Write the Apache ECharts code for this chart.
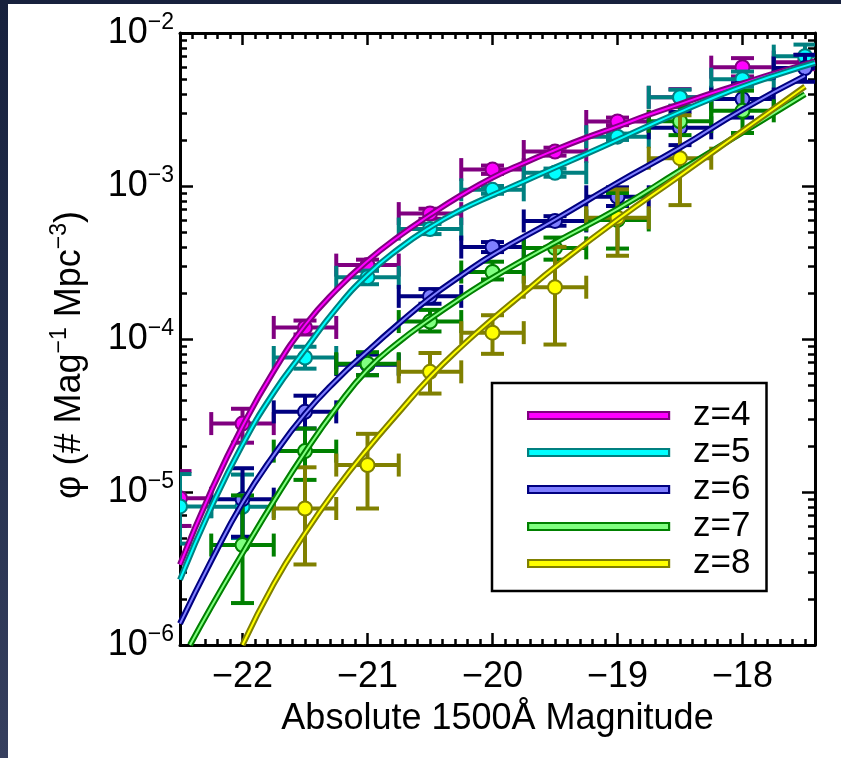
<!DOCTYPE html>
<html><head><meta charset="utf-8">
<script src="https://cdn.jsdelivr.net/npm/echarts@6/dist/echarts.min.js"></script>
<style>
html,body{margin:0;padding:0;width:841px;height:758px;overflow:hidden;background:linear-gradient(180deg,#17213d 0%,#26314f 55%,#363f5e 100%);}
#bg{position:absolute;left:8px;top:4px;width:833px;height:754px;background:#fff;}
#chart{position:absolute;left:0;top:0;width:841px;height:758px;}
</style></head>
<body><div id="bg"></div><div id="chart"></div>
<script>
// ---------------- data ----------------
const binHalfWidth = 0.25;
const xTickLabels = [-22, -21, -20, -19, -18];
const yDecades = [1e-6, 1e-5, 1e-4, 1e-3, 1e-2];
const legendNames = ['z=4', 'z=5', 'z=6', 'z=7', 'z=8'];

// measured points: magnitude, phi, lower bound, upper bound
const mag4 = [-22.5, -22.0, -21.5, -21.0, -20.5, -20.0, -19.5, -19.0, -18.5, -18.0, -17.5];
const phi4 = [9.1e-6, 2.8e-5, 1.19e-4, 3.04e-4, 6.6e-4, 1.28e-3, 1.68e-3, 2.64e-3, 3.8e-3, 5.98e-3, 6.45e-3];
const lo4  = [6.0e-6, 2.1e-5, 1.07e-4, 2.8e-4, 6.1e-4, 1.2e-3, 1.58e-3, 2.5e-3, 3.3e-3, 5.2e-3, 5.8e-3];
const hi4  = [1.37e-5, 3.5e-5, 1.32e-4, 3.3e-4, 7.1e-4, 1.36e-3, 1.78e-3, 2.8e-3, 4.3e-3, 6.85e-3, 7.2e-3];

const mag5 = [-22.5, -22.0, -21.5, -21.0, -20.5, -20.0, -19.5, -19.0, -18.5, -18.0, -17.5];
const phi5 = [8.05e-6, 8.0e-6, 7.57e-5, 2.53e-4, 5.23e-4, 9.44e-4, 1.22e-3, 2.1e-3, 3.8e-3, 4.99e-3, 7.06e-3];
const lo5  = [4.6e-6, 5.0e-6, 6.4e-5, 2.28e-4, 4.85e-4, 8.9e-4, 1.15e-3, 2.0e-3, 3.35e-3, 4.45e-3, 6.0e-3];
const hi5  = [1.31e-5, 1.3e-5, 8.9e-5, 2.8e-4, 5.65e-4, 1.0e-3, 1.3e-3, 2.2e-3, 4.26e-3, 5.6e-3, 8.4e-3];

const mag6 = [-22.0, -21.5, -21.0, -20.5, -20.0, -19.5, -19.0, -18.5, -18.0, -17.5];
const phi6 = [8.98e-6, 3.34e-5, 6.8e-5, 1.9e-4, 3.99e-4, 5.91e-4, 8.5e-4, 2.4e-3, 3.7e-3, 5.9e-3];
const lo6  = [5.1e-6, 2.6e-5, 5.8e-5, 1.7e-4, 3.7e-4, 5.5e-4, 7.4e-4, 1.85e-3, 2.8e-3, 4.8e-3];
const hi6  = [1.43e-5, 4.26e-5, 7.9e-5, 2.12e-4, 4.3e-4, 6.35e-4, 9.8e-4, 3.05e-3, 4.7e-3, 7.2e-3];

const mag7 = [-22.0, -21.5, -21.0, -20.5, -20.0, -19.5, -19.0, -18.5, -18.0];
const phi7 = [4.5e-6, 1.85e-5, 6.9e-5, 1.3e-4, 2.74e-4, 3.94e-4, 6.0e-4, 2.65e-3, 3.1e-3];
const lo7  = [1.88e-6, 1.2e-5, 5.8e-5, 1.12e-4, 2.45e-4, 3.3e-4, 3.9e-4, 2.15e-3, 2.22e-3];
const hi7  = [9.5e-6, 2.6e-5, 8.2e-5, 1.55e-4, 3.2e-4, 4.6e-4, 9.0e-4, 3.3e-3, 4.2e-3];

const mag8 = [-21.5, -21.0, -20.5, -20.0, -19.5, -19.0, -18.5];
const phi8 = [7.8e-6, 1.5e-5, 6.1e-5, 1.1e-4, 2.18e-4, 6.2e-4, 1.52e-3];
const lo8  = [3.36e-6, 7.8e-6, 4.4e-5, 8.0e-5, 9.2e-5, 3.5e-4, 7.5e-4];
const hi8  = [1.45e-5, 2.4e-5, 8.1e-5, 1.43e-4, 4.0e-4, 9.5e-4, 2.9e-3];

// fitted curves
const curveMag45 = [-22.5, -22.25, -22, -21.75, -21.5, -21.25, -21, -20.75, -20.5, -20.25, -20, -19.75, -19.5, -19.25, -19, -18.75, -18.5, -18.25, -18, -17.75, -17.5, -17.42];
const curve4 = [3.35e-6, 1.02e-5, 2.69e-5, 6.17e-5, 1.23e-4, 2.09e-4, 3.24e-4, 4.68e-4, 6.46e-4, 8.71e-4, 1.135e-3, 1.41e-3, 1.72e-3, 2.07e-3, 2.45e-3, 2.92e-3, 3.43e-3, 4.03e-3, 4.68e-3, 5.43e-3, 6.24e-3, 6.53e-3];
const curve5 = [2.67e-6, 7.94e-6, 2.04e-5, 4.47e-5, 8.51e-5, 1.58e-4, 2.63e-4, 3.89e-4, 5.37e-4, 7.0e-4, 8.71e-4, 1.07e-3, 1.32e-3, 1.62e-3, 2.0e-3, 2.48e-3, 3.05e-3, 3.72e-3, 4.47e-3, 5.25e-3, 6.1e-3, 6.38e-3];
const curveMag6 = [-22.5, -22.25, -22, -21.75, -21.5, -21.25, -21, -20.75, -20.5, -20.25, -20, -19.5, -19, -18.5, -18, -17.5];
const curve6 = [1.38e-6, 3.55e-6, 8.51e-6, 1.74e-5, 3.24e-5, 5.37e-5, 8.32e-5, 1.26e-4, 1.86e-4, 2.6e-4, 3.55e-4, 6.03e-4, 1.05e-3, 1.78e-3, 3.16e-3, 5.25e-3];
const curveMag7 = [-22.42, -22.25, -22, -21.75, -21.5, -21.25, -21, -20.75, -20.5, -20.25, -20, -19.5, -19, -18.5, -18, -17.5];
const curve7 = [1.0e-6, 1.78e-6, 3.98e-6, 8.71e-6, 1.82e-5, 3.55e-5, 6.31e-5, 9.55e-5, 1.35e-4, 1.86e-4, 2.51e-4, 4.27e-4, 7.08e-4, 1.26e-3, 2.24e-3, 3.98e-3];
const curveMag8 = [-22, -21.75, -21.5, -21.25, -21, -20.75, -20.5, -20.25, -20, -19.75, -19.5, -19, -18.5, -18, -17.5];
const curve8 = [1.0e-6, 2.51e-6, 5.37e-6, 1.05e-5, 1.91e-5, 3.31e-5, 5.62e-5, 8.91e-5, 1.35e-4, 2.0e-4, 2.95e-4, 6.03e-4, 1.17e-3, 2.29e-3, 4.47e-3];

// ---------------- styling ----------------
const FONT = "'Liberation Sans', Arial, Helvetica, sans-serif";
const FS = 36;
const groups = [
  {name: legendNames[0], dark: '#800080', light: '#ff00ff', mag: mag4, phi: phi4, lo: lo4, hi: hi4, cx: curveMag45, cy: curve4},
  {name: legendNames[1], dark: '#008080', light: '#00ffff', mag: mag5, phi: phi5, lo: lo5, hi: hi5, cx: curveMag45, cy: curve5},
  {name: legendNames[2], dark: '#000080', light: '#7f7fff', mag: mag6, phi: phi6, lo: lo6, hi: hi6, cx: curveMag6, cy: curve6},
  {name: legendNames[3], dark: '#008000', light: '#80ff80', mag: mag7, phi: phi7, lo: lo7, hi: hi7, cx: curveMag7, cy: curve7},
  {name: legendNames[4], dark: '#808000', light: '#ffff00', mag: mag8, phi: phi8, lo: lo8, hi: hi8, cx: curveMag8, cy: curve8}
];

const xMinor = [];
for (let i = -224; i <= -175; i++) xMinor.push(i / 10);
const yMinor = [];
yDecades.slice(0, -1).forEach(d => { for (let m = 2; m <= 9; m++) yMinor.push(m * d); });

const minus = s => String(s).replace('-', '\u2212');

function makeRender(dark, light) {
  return function (params, api) {
    const x = api.value(0), y = api.value(1), lo = api.value(2), hi = api.value(3);
    const c = api.coord([x, y]);
    const l = api.coord([x - binHalfWidth, y]);
    const r = api.coord([x + binHalfWidth, y]);
    const t = api.coord([x, hi]);
    const b = api.coord([x, lo]);
    const cap = 11.5;
    const ls = {stroke: dark, lineWidth: 4};
    const segs = [
      [l[0], c[1], r[0], c[1]],
      [l[0], c[1] - cap, l[0], c[1] + cap],
      [r[0], c[1] - cap, r[0], c[1] + cap],
      [c[0], t[1], c[0], b[1]],
      [c[0] - cap, t[1], c[0] + cap, t[1]],
      [c[0] - cap, b[1], c[0] + cap, b[1]]
    ];
    const children = segs.map(s => ({type: 'line', shape: {x1: s[0], y1: s[1], x2: s[2], y2: s[3]}, style: ls}));
    children.push({type: 'circle', shape: {cx: c[0], cy: c[1], r: 7}, style: {fill: light, stroke: dark, lineWidth: 2}});
    return {type: 'group', children};
  };
}

const series = [];
groups.forEach(g => {
  const pts = g.cx.map((m, i) => [m, g.cy[i]]);
  series.push({name: g.name, type: 'line', data: pts, smooth: true, symbol: 'none', silent: true,
    lineStyle: {color: g.dark, width: 6}, itemStyle: {color: g.dark}});
  series.push({name: g.name + ' fit', type: 'line', data: pts, smooth: true, symbol: 'none', silent: true,
    lineStyle: {color: g.light, width: 2}, itemStyle: {color: g.light}});
});
groups.forEach(g => {
  series.push({name: g.name + ' data', type: 'custom', clip: true, silent: true,
    data: g.mag.map((m, i) => [m, g.phi[i], g.lo[i], g.hi[i]]),
    encode: {x: 0, y: 1},
    renderItem: makeRender(g.dark, g.light)});
});

const axLine = {show: true, onZero: false, lineStyle: {color: '#000', width: 3}};
const tickStyle = {color: '#000', width: 2.5};
const XMIN = -22.5, XMAX = -17.42, YMIN = 1e-6, YMAX = 1e-2;

const option = {
  animation: false,
  backgroundColor: 'transparent',
  textStyle: {fontFamily: FONT},
  grid: {left: 180, right: 26, top: 33, bottom: 113, containLabel: false},
  legend: {
    orient: 'vertical', left: 492, top: 383, selectedMode: false,
    padding: [15, 16, 10, 35], itemGap: 2, itemWidth: 141, itemHeight: 7,
    borderColor: '#000', borderWidth: 2.5, backgroundColor: '#fff',
    textStyle: {fontSize: 35, lineHeight: 34, color: '#000', fontFamily: FONT, padding: [0, 0, 0, 19]},
    data: groups.map(g => ({name: g.name, icon: 'rect', itemStyle: {color: g.light, borderColor: g.dark, borderWidth: 2.2}}))
  },
  xAxis: [
    {type: 'value', position: 'bottom', min: XMIN, max: XMAX, axisLine: axLine,
      axisTick: {show: true, inside: true, length: 12, lineStyle: tickStyle, customValues: xTickLabels},
      axisLabel: {show: true, customValues: xTickLabels, formatter: v => minus(v), fontSize: FS, color: '#000', margin: 14, fontFamily: FONT},
      splitLine: {show: false},
      name: 'Absolute 1500\u00C5 Magnitude', nameLocation: 'middle', nameGap: 56,
      nameTextStyle: {fontSize: FS, color: '#000', fontFamily: FONT}},
    {type: 'value', position: 'bottom', min: XMIN, max: XMAX, axisLine: {show: false},
      axisTick: {show: true, inside: true, length: 6, lineStyle: tickStyle, customValues: xMinor},
      axisLabel: {show: false}, splitLine: {show: false}},
    {type: 'value', position: 'top', min: XMIN, max: XMAX, axisLine: axLine,
      axisTick: {show: true, inside: true, length: 12, lineStyle: tickStyle, customValues: xTickLabels},
      axisLabel: {show: false}, splitLine: {show: false}},
    {type: 'value', position: 'top', min: XMIN, max: XMAX, axisLine: {show: false},
      axisTick: {show: true, inside: true, length: 6, lineStyle: tickStyle, customValues: xMinor},
      axisLabel: {show: false}, splitLine: {show: false}}
  ],
  yAxis: [
    {type: 'log', logBase: 10, position: 'left', min: YMIN, max: YMAX, axisLine: axLine,
      axisTick: {show: true, inside: true, length: 13, lineStyle: tickStyle},
      axisLabel: {show: true, margin: 6, color: '#000', fontSize: FS, lineHeight: 44, fontFamily: FONT,
        formatter: v => '10{sup|' + minus(Math.round(Math.log10(v))) + '}',
        rich: {sup: {fontSize: 23, lineHeight: 23, verticalAlign: 'top', color: '#000', fontFamily: FONT}}},
      splitLine: {show: false},
      name: '\u03C6 (# Mag{sup|\u22121} Mpc{sup|\u22123})', nameLocation: 'middle', nameRotate: 90, nameGap: 88,
      nameTextStyle: {fontSize: FS, color: '#000', lineHeight: 44, fontFamily: FONT, padding: [0, 32, 0, 0],
        rich: {sup: {fontSize: 23, lineHeight: 23, verticalAlign: 'top', color: '#000', fontFamily: FONT}}}},
    {type: 'log', logBase: 10, position: 'left', min: YMIN, max: YMAX, axisLine: {show: false},
      axisTick: {show: true, inside: true, length: 7, lineStyle: tickStyle, customValues: yMinor},
      axisLabel: {show: false}, splitLine: {show: false}},
    {type: 'log', logBase: 10, position: 'right', min: YMIN, max: YMAX, axisLine: axLine,
      axisTick: {show: true, inside: true, length: 13, lineStyle: tickStyle},
      axisLabel: {show: false}, splitLine: {show: false}},
    {type: 'log', logBase: 10, position: 'right', min: YMIN, max: YMAX, axisLine: {show: false},
      axisTick: {show: true, inside: true, length: 7, lineStyle: tickStyle, customValues: yMinor},
      axisLabel: {show: false}, splitLine: {show: false}}
  ],
  series: series
};

const chart = echarts.init(document.getElementById('chart'), null, {renderer: 'canvas'});
chart.setOption(option);
</script></body></html>
